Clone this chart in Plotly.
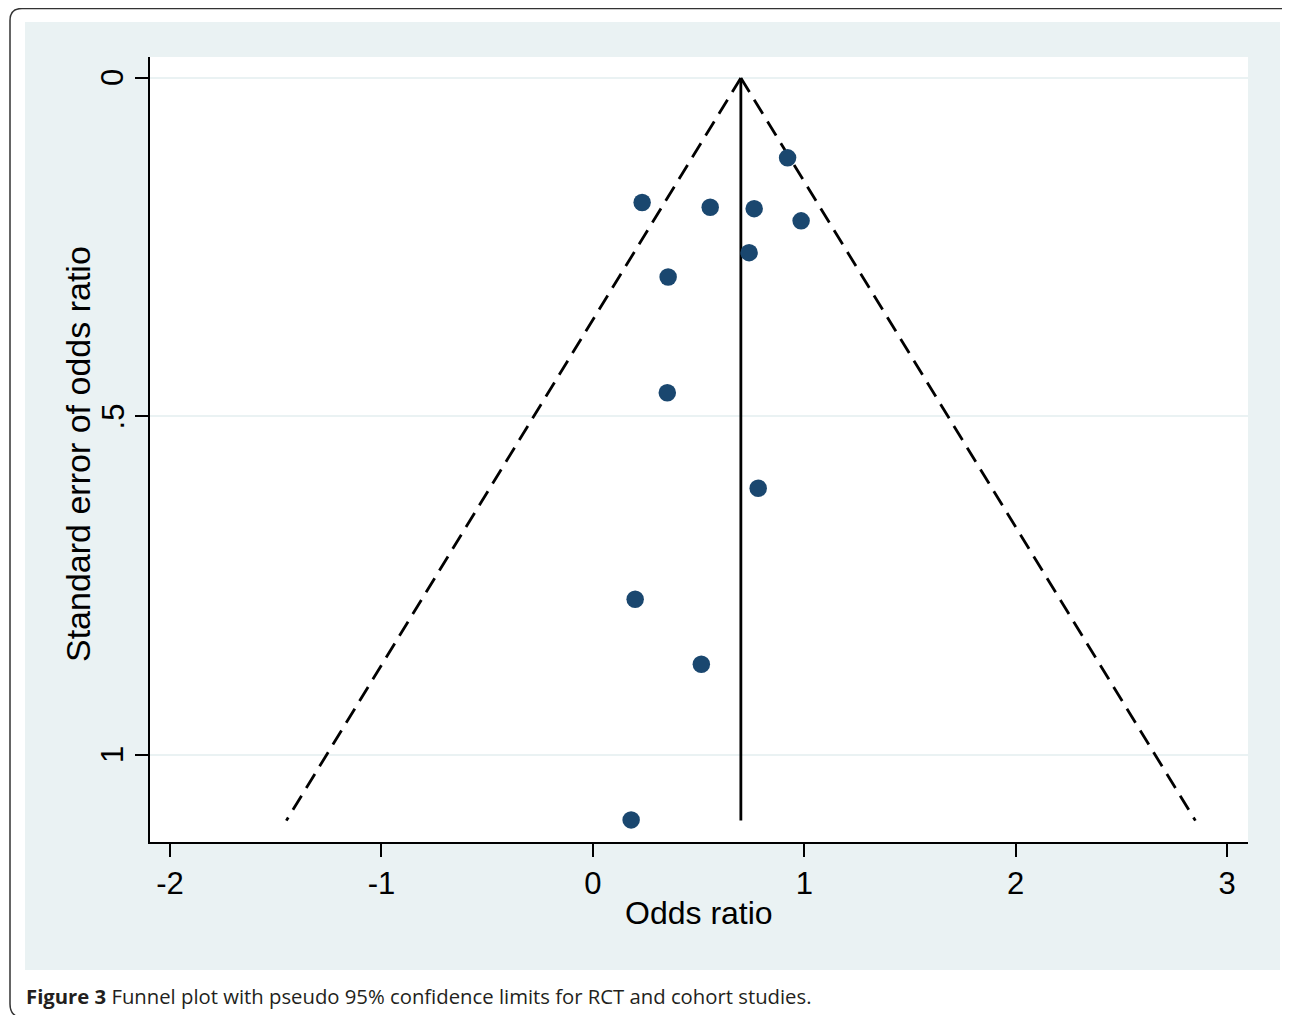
import plotly.graph_objects as go

# ---- data ----
log_or = [0.921, 0.233, 0.555, 0.763, 0.985, 0.739, 0.356, 0.352, 0.782, 0.200, 0.513, 0.181]
se_or = [0.118, 0.184, 0.191, 0.193, 0.211, 0.258, 0.294, 0.465, 0.606, 0.770, 0.866, 1.096]
pooled = 0.70
se_max = 1.097
z95 = 1.96
x_ticks = [-2, -1, 0, 1, 2, 3]
y_ticks = [0, 0.5, 1]
y_tick_labels = ["0", ".5", "1"]

# page body margin offset (browser default)
OFF = 8
W, H = 1290 - OFF, 1015 - OFF
ML, MR, MT, MB = 150 - OFF, 42, 57 - OFF, 173
PW, PH = W - ML - MR, H - MT - MB


def px(x):
    return (x - OFF - ML) / PW


def py(y):
    return 1 - (y - OFF - MT) / PH


NAVY = "#1a476f"
BG = "#eaf2f3"
DASH = "16.5px,9px"
AXFONT = dict(family="Liberation Sans, Arial", size=31, color="black")

fig = go.Figure()

# pseudo 95% confidence limits
fig.add_trace(go.Scatter(
    x=[pooled, pooled - z95 * se_max], y=[0, se_max], mode="lines",
    line=dict(color="black", width=2.8, dash=DASH), hoverinfo="skip", showlegend=False))
fig.add_trace(go.Scatter(
    x=[pooled, pooled + z95 * se_max], y=[0, se_max], mode="lines",
    line=dict(color="black", width=2.8, dash=DASH), hoverinfo="skip", showlegend=False))
# pooled estimate
fig.add_trace(go.Scatter(
    x=[pooled, pooled], y=[0, se_max], mode="lines",
    line=dict(color="black", width=2.8), hoverinfo="skip", showlegend=False))
# studies
fig.add_trace(go.Scatter(
    x=log_or, y=se_or, mode="markers",
    marker=dict(color=NAVY, size=17.5, line=dict(width=0)), showlegend=False))

shapes = [
    # graph region background
    dict(type="rect", xref="paper", yref="paper", x0=px(25), x1=px(1280), y0=py(970), y1=py(22),
         fillcolor=BG, line=dict(width=0), layer="below"),
    # plot region
    dict(type="rect", xref="paper", yref="paper", x0=0, x1=1, y0=0, y1=1,
         fillcolor="white", line=dict(width=0), layer="below"),
    # outer frame
    dict(type="path", xref="paper", yref="paper",
         path=(f"M {px(1300)} {py(8.5)} L {px(22)} {py(8.5)} Q {px(10)} {py(8.5)} {px(10)} {py(20.5)} "
               f"L {px(10)} {py(1004)} Q {px(10)} {py(1013)} {px(16)} {py(1016)}"),
         line=dict(color="#333333", width=1.5), layer="below"),
]

annotations = [
    dict(text="Standard error of odds ratio", xref="paper", yref="paper", x=px(78), y=py(454),
         textangle=-90, showarrow=False, xanchor="center", yanchor="middle",
         font=dict(family="Liberation Sans, Arial", size=34, color="black")),
    dict(text="Odds ratio", xref="paper", yref="paper", x=px(699), y=py(913),
         showarrow=False, xanchor="center", yanchor="middle",
         font=dict(family="Liberation Sans, Arial", size=32, color="black")),
    dict(text="<b>Figure 3</b> Funnel plot with pseudo 95% confidence limits for RCT and cohort studies.",
         xref="paper", yref="paper", x=px(24), y=py(996), showarrow=False, xanchor="left", yanchor="middle",
         font=dict(family="Open Sans", size=20.3, color="#231f20")),
]
# rotated y tick labels centred on their ticks
for v, t in zip(y_ticks, y_tick_labels):
    annotations.append(dict(text=t, xref="paper", yref="y", x=px(113), y=v, textangle=-90,
                            showarrow=False, xanchor="center", yanchor="middle", font=AXFONT))

fig.update_layout(
    width=W, height=H, margin=dict(l=ML, r=MR, t=MT, b=MB, pad=0),
    paper_bgcolor="white", plot_bgcolor="white",
    shapes=shapes, annotations=annotations, showlegend=False,
    xaxis=dict(range=[-2.095, 3.099], tickvals=x_ticks, ticktext=[str(v) for v in x_ticks],
               showgrid=False, zeroline=False, showline=True, linecolor="black", linewidth=1.5,
               ticks="outside", ticklen=13, tickwidth=1.5, tickcolor="black", tickfont=AXFONT),
    yaxis=dict(range=[1.1286, -0.031], tickvals=y_ticks, showticklabels=False,
               showgrid=True, gridcolor=BG, gridwidth=2, zeroline=False,
               showline=True, linecolor="black", linewidth=1.5,
               ticks="outside", ticklen=13, tickwidth=1.5, tickcolor="black"),
)

fig.write_html("out.html")
